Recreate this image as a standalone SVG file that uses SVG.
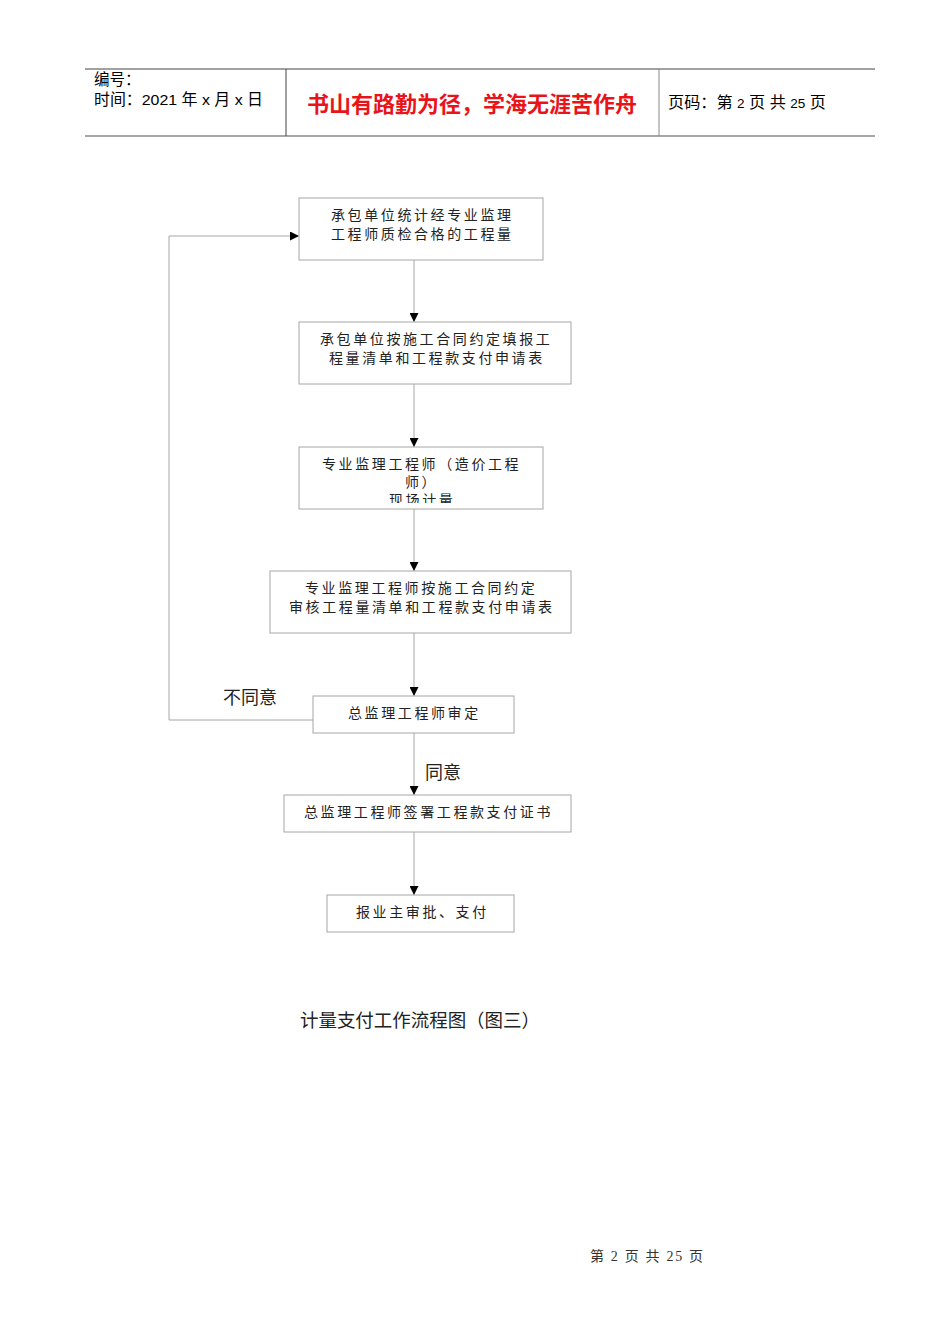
<svg xmlns="http://www.w3.org/2000/svg" width="950" height="1344" viewBox="0 0 950 1344">
<style>
.hd{font-family:"Liberation Sans","Noto Sans CJK SC",sans-serif;font-size:15.5px;fill:#000}
.bx{fill:#fff;stroke:#a6a6a6;stroke-width:1}
.bt{font-family:"Noto Sans CJK SC",sans-serif;font-size:14px;letter-spacing:2.6px;fill:#222}
.lb{font-family:"Liberation Sans","Noto Sans CJK SC",sans-serif;font-size:18px;fill:#222}
.cn{fill:none;stroke:#a6a6a6;stroke-width:1}
</style>
<defs>
<marker id="ah" viewBox="0 0 10 10" refX="10" refY="5" markerWidth="9" markerHeight="9" markerUnits="userSpaceOnUse" orient="auto"><path d="M0,0 L10,5 L0,10 Z" fill="#000"/></marker>
<clipPath id="c3"><rect x="299" y="447" width="244" height="56"/></clipPath>
</defs>
<rect width="950" height="1344" fill="#fff"/>
<g id="header">
<line x1="85" y1="69" x2="875" y2="69" stroke="#444" stroke-width="1"/>
<line x1="85" y1="136" x2="875" y2="136" stroke="#888" stroke-width="1.5"/>
<line x1="286" y1="69" x2="286" y2="136" stroke="#444" stroke-width="1"/>
<line x1="659" y1="69" x2="659" y2="136" stroke="#888" stroke-width="1"/>
<text class="hd" x="94" y="85">编号：</text>
<text class="hd" x="94" y="105" textLength="169" lengthAdjust="spacingAndGlyphs">时间：2021 年 x 月 x 日</text>
<text x="472" y="112" text-anchor="middle" font-family="Noto Sans CJK SC,sans-serif" font-size="22" font-weight="bold" fill="#e8141a">书山有路勤为径，学海无涯苦作舟</text>
<text class="hd" x="668" y="108" textLength="158" lengthAdjust="spacingAndGlyphs">页码：第 <tspan font-size="13">2</tspan> 页  共 <tspan font-size="13">25</tspan> 页</text>
</g>
<g id="connectors">
<line class="cn" x1="414" y1="260" x2="414" y2="322" marker-end="url(#ah)"/>
<line class="cn" x1="414" y1="384" x2="414" y2="447" marker-end="url(#ah)"/>
<line class="cn" x1="414" y1="509" x2="414" y2="571" marker-end="url(#ah)"/>
<line class="cn" x1="414" y1="633" x2="414" y2="696" marker-end="url(#ah)"/>
<line class="cn" x1="414" y1="733" x2="414" y2="795" marker-end="url(#ah)"/>
<line class="cn" x1="414" y1="832" x2="414" y2="895" marker-end="url(#ah)"/>
<polyline class="cn" points="313,720 169,720 169,236 299,236" marker-end="url(#ah)"/>
<text class="lb" x="223" y="704">不同意</text>
<text class="lb" x="425" y="779">同意</text>
</g>
<g id="n1"><rect class="bx" x="299" y="198" width="244" height="62"/>
<text class="bt" x="331" y="220">承包单位统计经专业监理</text>
<text class="bt" x="331" y="239">工程师质检合格的工程量</text></g>
<g id="n2"><rect class="bx" x="299" y="322" width="272" height="62"/>
<text class="bt" x="320" y="344">承包单位按施工合同约定填报工</text>
<text class="bt" x="329" y="363">程量清单和工程款支付申请表</text></g>
<g id="n3"><rect class="bx" x="299" y="447" width="244" height="62"/>
<g clip-path="url(#c3)">
<text class="bt" x="322" y="469">专业监理工程师（造价工程</text>
<text class="bt" x="405" y="487">师）</text>
<text class="bt" x="389" y="505">现场计量</text></g></g>
<g id="n4"><rect class="bx" x="270" y="571" width="301" height="62"/>
<text class="bt" x="305" y="593">专业监理工程师按施工合同约定</text>
<text class="bt" x="289" y="612">审核工程量清单和工程款支付申请表</text></g>
<g id="n5"><rect class="bx" x="313" y="696" width="201" height="37"/>
<text class="bt" x="348" y="718">总监理工程师审定</text></g>
<g id="n6"><rect class="bx" x="284" y="795" width="287" height="37"/>
<text class="bt" x="304" y="817">总监理工程师签署工程款支付证书</text></g>
<g id="n7"><rect class="bx" x="327" y="895" width="187" height="37"/>
<text class="bt" x="356" y="917">报业主审批、支付</text></g>
<text x="300" y="1027" textLength="240" lengthAdjust="spacing" font-family="Noto Sans CJK SC,sans-serif" font-size="18.5" fill="#222">计量支付工作流程图（图三）</text>
<text x="590" y="1261" textLength="113" lengthAdjust="spacing" font-family="Liberation Serif,Noto Sans CJK SC,serif" font-size="14" fill="#333">第 2 页 共 25 页</text>
</svg>
